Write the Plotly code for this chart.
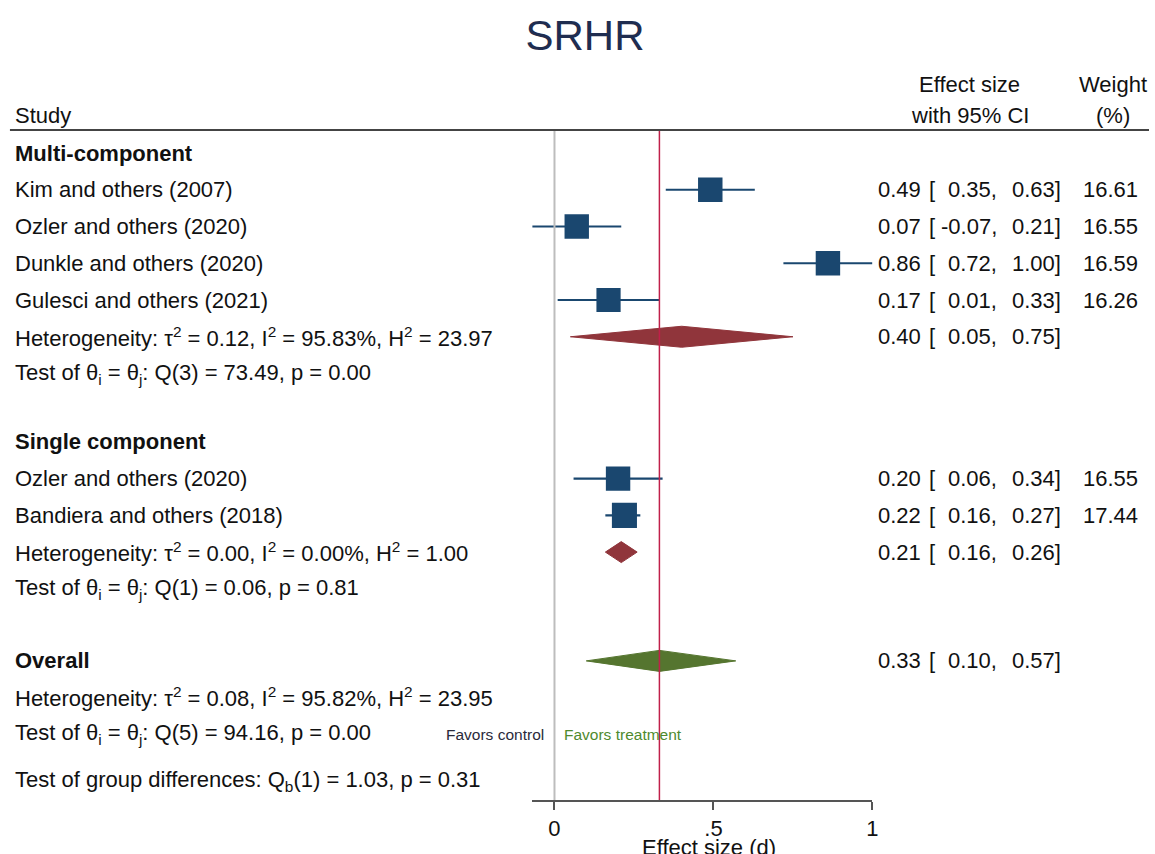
import plotly.graph_objects as go

# ---- data -------------------------------------------------------------
multi_studies = ["Kim and others (2007)", "Ozler and others (2020)",
                 "Dunkle and others (2020)", "Gulesci and others (2021)"]
multi_es = [0.49, 0.07, 0.86, 0.17]
multi_lo = [0.35, -0.07, 0.72, 0.01]
multi_hi = [0.63, 0.21, 1.00, 0.33]
multi_w = [16.61, 16.55, 16.59, 16.26]
multi_pooled = (0.40, 0.05, 0.75)
multi_het = "Heterogeneity: τ<sup>2</sup> = 0.12, I<sup>2</sup> = 95.83%, H<sup>2</sup> = 23.97"
multi_test = "Test of θ<sub>i</sub> = θ<sub>j</sub>: Q(3) = 73.49, p = 0.00"

single_studies = ["Ozler and others (2020)", "Bandiera and others (2018)"]
single_es = [0.20, 0.22]
single_lo = [0.06, 0.16]
single_hi = [0.34, 0.27]
single_w = [16.55, 17.44]
single_pooled = (0.21, 0.16, 0.26)
single_het = "Heterogeneity: τ<sup>2</sup> = 0.00, I<sup>2</sup> = 0.00%, H<sup>2</sup> = 1.00"
single_test = "Test of θ<sub>i</sub> = θ<sub>j</sub>: Q(1) = 0.06, p = 0.81"

overall_pooled = (0.33, 0.10, 0.57)
overall_het = "Heterogeneity: τ<sup>2</sup> = 0.08, I<sup>2</sup> = 95.82%, H<sup>2</sup> = 23.95"
overall_test = "Test of θ<sub>i</sub> = θ<sub>j</sub>: Q(5) = 94.16, p = 0.00"
group_test = "Test of group differences: Q<sub>b</sub>(1) = 1.03, p = 0.31"

x_ticks = [0, 0.5, 1]
x_tick_labels = ["0", ".5", "1"]

# ---- style ------------------------------------------------------------
W, H = 1155, 854
FONT = "Liberation Sans, Arial, sans-serif"
FS = 22
TXT = "#111111"
NAVY = "#1a476f"
RED = "#90353b"
GREEN = "#55752f"
LINE_PX = 36.75          # pixel height of one table line
TOP_PX = 153             # centre of the first table line
PLOT_BOTTOM_PX = 800     # where the x axis sits

def py(px):
    """Convert a pixel row to y-axis line units."""
    return (px - TOP_PX) / LINE_PX

# ---- row layout -------------------------------------------------------
rows = []  # (kind, label, payload)
rows.append(("header", "Multi-component", None))
for i, s in enumerate(multi_studies):
    rows.append(("study", s, (multi_es[i], multi_lo[i], multi_hi[i], multi_w[i])))
rows.append(("pooled", multi_het, (multi_pooled, RED)))
rows.append(("text", multi_test, None))
rows.append(("header", "Single component", None))
for i, s in enumerate(single_studies):
    rows.append(("study", s, (single_es[i], single_lo[i], single_hi[i], single_w[i])))
rows.append(("pooled", single_het, (single_pooled, RED)))
rows.append(("text", single_test, None))
rows.append(("overall", "Overall", (overall_pooled, GREEN)))
rows.append(("text", overall_het, None))
rows.append(("favors", overall_test, None))
rows.append(("text", group_test, None))

# vertical advance before each row, in line units
steps = [0, 1, 1, 1, 1, 1, 1, 1.86, 1, 1, 1, 1, 1.96, 0.98, 1.02, 1.28]
ypos = []
acc = 0.0
for s in steps:
    acc += s
    ypos.append(acc)

fig = go.Figure()
ann = []

def txt_ann(x_px, y, text, anchor="left", size=FS, color=TXT):
    ann.append(dict(xref="paper", yref="y", x=x_px / W, y=y, xanchor=anchor,
                    yanchor="middle", showarrow=False, text=text,
                    font=dict(family=FONT, size=size, color=color)))

def left_text(y, text, bold=False):
    txt_ann(13, y, f"<b>{text}</b>" if bold else text)

def right_cols(y, es, lo, hi, w=None):
    # effect size, lower bound, upper bound and weight in aligned columns
    txt_ann(928, y, f"{es:.2f}", "right")
    txt_ann(932, y, "[", "left")
    txt_ann(1004, y, f"{lo:.2f},", "right")
    txt_ann(1069, y, f"{hi:.2f}]", "right")
    if w is not None:
        txt_ann(1146, y, f"{w:.2f}", "right")

study_x, study_y, study_lo, study_hi, study_size = [], [], [], [], []
diamond_h = 10.5 / LINE_PX

for (kind, label, payload), y in zip(rows, ypos):
    if kind == "header":
        left_text(y, label, bold=True)
    elif kind == "study":
        es, lo, hi, w = payload
        left_text(y, label)
        right_cols(y, es, lo, hi, w)
        study_x.append(es)
        study_y.append(y)
        study_lo.append(es - lo)
        study_hi.append(hi - es)
        study_size.append(6.0 * w ** 0.5)
    elif kind in ("pooled", "overall"):
        (es, lo, hi), col = payload
        left_text(y, label, bold=(kind == "overall"))
        right_cols(y, es, lo, hi)
        fig.add_trace(go.Scatter(
            x=[lo, es, hi, es, lo],
            y=[y, y - diamond_h, y, y + diamond_h, y],
            mode="lines", fill="toself", fillcolor=col,
            line=dict(color=col, width=1), hoverinfo="skip", showlegend=False))
    elif kind == "favors":
        left_text(y, label)
        ann.append(dict(xref="x", yref="y", x=0, y=y, xanchor="right", xshift=-8,
                        yanchor="middle", showarrow=False, text="Favors control",
                        font=dict(family=FONT, size=15.5, color="#2a2a3a")))
        ann.append(dict(xref="x", yref="y", x=0, y=y, xanchor="left", xshift=8,
                        yanchor="middle", showarrow=False, text="Favors treatment",
                        font=dict(family=FONT, size=15.5, color="#4f8a2e")))
    else:
        left_text(y, label)

# study estimates: squares with confidence intervals
fig.add_trace(go.Scatter(
    x=study_x, y=study_y, mode="markers",
    marker=dict(symbol="square", size=study_size, color=NAVY, opacity=1,
                line=dict(width=0)),
    error_x=dict(type="data", symmetric=False, array=study_hi,
                 arrayminus=study_lo, color=NAVY, thickness=2.2, width=0),
    hoverinfo="skip", showlegend=False))

# column headings
for txt, x, y, anchor in [
    ("Study", 13, 115, "left"),
    ("Effect size", 975, 84, "center"),
    ("with 95% CI", 975, 115, "center"),
    ("Weight", 1119, 84, "center"),
    ("(%)", 1119, 115, "center"),
]:
    ann.append(dict(xref="paper", yref="paper", x=x / W, y=1 - y / H,
                    xanchor=anchor, yanchor="middle", showarrow=False, text=txt,
                    font=dict(family=FONT, size=FS, color=TXT)))

# x-axis title, sitting just under the tick labels
ann.append(dict(xref="paper", yref="paper", x=713 / W, y=1 - 847 / H,
                xanchor="center", yanchor="middle", showarrow=False,
                text="Effect size (d)", font=dict(family=FONT, size=FS, color=TXT)))

shapes = [
    # rule under the column headings
    dict(type="line", xref="paper", yref="paper", x0=10 / W, x1=1,
         y0=1 - 130 / H, y1=1 - 130 / H, line=dict(color="#444444", width=2)),
    # no-effect line
    dict(type="line", xref="x", yref="y", x0=0, x1=0,
         y0=py(131), y1=py(PLOT_BOTTOM_PX), line=dict(color="#bdbdbd", width=2)),
    # overall effect line
    dict(type="line", xref="x", yref="y", x0=overall_pooled[0], x1=overall_pooled[0],
         y0=py(131), y1=py(PLOT_BOTTOM_PX), line=dict(color="#c0204a", width=1.5)),
]

fig.update_layout(
    width=W, height=H, autosize=False,
    margin=dict(l=0, r=0, t=0, b=0),
    paper_bgcolor="white", plot_bgcolor="white",
    title=dict(text="SRHR", x=585 / W, xanchor="center", y=1 - 35 / H,
               yanchor="middle", font=dict(family=FONT, size=42, color="#1f2d50")),
    xaxis=dict(domain=[535 / W, 877 / W], range=[-0.07, 1.0],
               tickvals=x_ticks, ticktext=x_tick_labels,
               showline=True, linecolor="#555555", linewidth=2,
               ticks="outside", ticklen=8, tickwidth=2, tickcolor="#555555",
               showgrid=False, zeroline=False,
               tickfont=dict(family=FONT, size=FS, color=TXT)),
    yaxis=dict(domain=[(H - PLOT_BOTTOM_PX) / H, 1],
               range=[py(PLOT_BOTTOM_PX), py(0)], visible=False),
    annotations=ann, shapes=shapes,
)

fig.write_html("out.html")
